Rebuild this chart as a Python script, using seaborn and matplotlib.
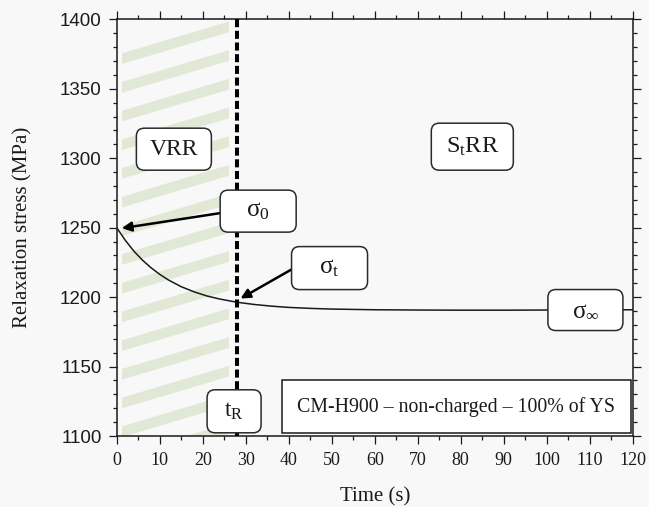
import numpy as np
import pandas as pd
import seaborn as sns
import matplotlib
matplotlib.use("Agg")
import matplotlib.pyplot as plt
import matplotlib.transforms as mtransforms
from matplotlib.patches import FancyBboxPatch, Rectangle, Polygon

# Stress relaxation curve
time_s = [0, 2, 4, 6, 8, 10, 12, 15, 18, 21, 24, 28, 32, 36, 40, 45, 50,
          60, 70, 80, 90, 100, 110, 120]
stress_mpa = [1250.0, 1240.9, 1233.1, 1226.6, 1221.1, 1216.4, 1212.4, 1207.5,
              1203.8, 1200.8, 1198.6, 1196.3, 1194.7, 1193.5, 1192.6, 1191.9,
              1191.4, 1190.9, 1190.7, 1190.6, 1190.6, 1190.7, 1190.8, 1190.9]
t_relax = 28          # end of the viscoplastic relaxation regime
x_ticks = list(range(0, 121, 10))
y_ticks = list(range(1100, 1401, 50))
condition_label = "CM-H900 \u2013 non-charged \u2013 100% of YS"

df = pd.DataFrame({"Time (s)": time_s, "Relaxation stress (MPa)": stress_mpa})

sns.set_theme(style="ticks")
plt.rcParams["font.family"] = ["Liberation Serif", "DejaVu Serif"]
plt.rcParams["mathtext.fontset"] = "custom"
plt.rcParams["mathtext.rm"] = "Liberation Serif"
plt.rcParams["mathtext.it"] = "Liberation Serif:italic"
plt.rcParams["mathtext.bf"] = "Liberation Serif:bold"

bg = "#f8f8f8"
ink = "#1a1a1a"
fig = plt.figure(figsize=(6.49, 5.07), dpi=100, facecolor=bg)
ax = fig.add_axes([0.1798, 0.1400, 0.7951, 0.8219])
ax.set_facecolor(bg)

ax.set_xlim(0, 120)
ax.set_ylim(1100, 1400)

# Hatched band marking the VRR region
t0, t1 = 1.16, 26.2
slope = 0.919
band_h = 7.7
for k in range(0, 15):
    top0 = 1375.5 - 20.66 * k
    top1 = top0 + slope * (t1 - t0)
    poly = Polygon([(t0, top0 - band_h), (t1, top1 - band_h), (t1, top1), (t0, top0)],
                   closed=True, facecolor="#e2e8d6", edgecolor="none", zorder=1)
    ax.add_patch(poly)
    clip = Rectangle((t0, 1100), t1 - t0, 300, transform=ax.transData)
    poly.set_clip_path(clip)

sns.lineplot(data=df, x="Time (s)", y="Relaxation stress (MPa)", ax=ax,
             color=ink, linewidth=1.1, zorder=3)

ax.axvline(t_relax, color="black", linewidth=2.9, dashes=(2.0, 0.9), zorder=4)

ax.set_xticks(x_ticks)
ax.set_yticks(y_ticks)
ax.set_xticks(np.arange(0, 121, 5), minor=True)
ax.set_yticks(np.arange(1100, 1401, 10), minor=True)
ax.tick_params(which="both", direction="out", top=True, right=True, width=0.9,
               color=ink)
ax.tick_params(which="major", length=5.8)
ax.tick_params(which="minor", length=3.2)
ax.tick_params(axis="x", labelsize=13, labelcolor=ink, pad=5.5)
ax.tick_params(axis="y", labelsize=13.5, labelcolor=ink,
               labelfontfamily="Liberation Sans", pad=5)
for s in ax.spines.values():
    s.set_linewidth(1.1)
    s.set_color(ink)
    s.set_visible(True)

ax.set_xlabel("Time (s)", fontsize=15, color=ink, labelpad=13)
ax.set_ylabel("Relaxation stress (MPa)", fontsize=15, color=ink, labelpad=20)


def label_box(cx, cy, w_px, h_px, text, size=16.5, clip=True):
    trans = fig.dpi_scale_trans + mtransforms.ScaledTranslation(cx, cy, ax.transData)
    w, h = w_px / 100, h_px / 100
    patch = FancyBboxPatch((-w / 2, -h / 2), w, h,
                           boxstyle="round,pad=0,rounding_size=0.08",
                           transform=trans, facecolor="white", edgecolor="#2a2a2a",
                           linewidth=1.1, zorder=6, clip_on=clip)
    ax.add_patch(patch)
    ax.text(cx, cy, text, ha="center", va="center", fontsize=size, color=ink,
            zorder=7, clip_on=False)


label_box(13.3, 1306.5, 75, 42, "VRR", size=17)
label_box(82.7, 1308.3, 82, 47, r"$\mathrm{S_tRR}$", size=17.5)
label_box(32.9, 1261.9, 76, 42, r"$\mathrm{\sigma_0}$", size=18)
label_box(49.5, 1220.9, 76, 43, r"$\mathrm{\sigma_t}$", size=18)
label_box(109.0, 1190.7, 75, 41, r"$\mathrm{\sigma_\infty}$", size=18)
label_box(27.3, 1117.8, 54, 43, r"$\mathrm{t_R}$", size=17, clip=False)

arrow = dict(arrowstyle="-|>", lw=1.8, color="black", mutation_scale=14,
             shrinkA=0, shrinkB=0)
ax.annotate("", xy=(time_s[0] + 1.2, stress_mpa[0] - 0.4), xytext=(23.9, 1260.4),
            arrowprops=arrow, zorder=5)
i_r = time_s.index(t_relax)
ax.annotate("", xy=(t_relax + 0.8, stress_mpa[i_r] + 2.7), xytext=(40.7, 1220.0),
            arrowprops=arrow, zorder=5)

# Test condition caption
ax.add_patch(Rectangle((38.4, 1101.9), 81.3, 38.1, facecolor="white",
                       edgecolor=ink, linewidth=1.1, zorder=6))
ax.text(79.0, 1120.9, condition_label, ha="center", va="center", fontsize=14.3,
        color=ink, zorder=7)

fig.savefig("out.png", dpi=100, facecolor=bg)
